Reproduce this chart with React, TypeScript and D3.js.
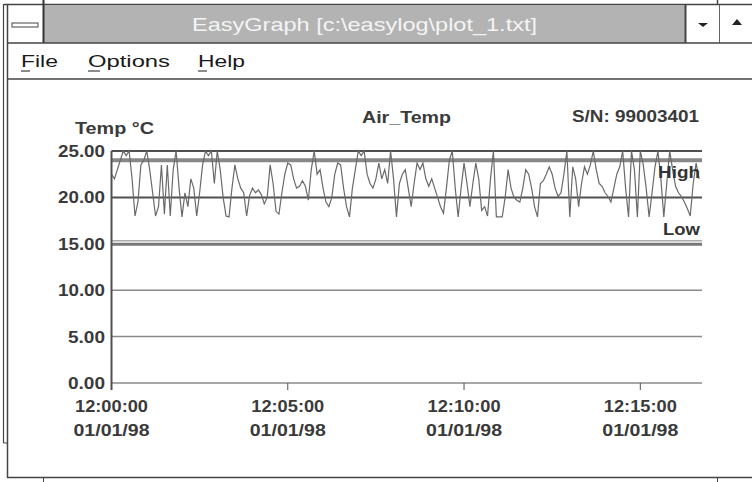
import React from "react";
import * as d3 from "d3";

// ---------- data ----------
const sampleStepSec = 5;
const airTemp: number[] = [
  22.5, 22.0, 23.0, 24.0, 25.0, 24.5, 25.0, 22.0, 18.0, 19.5,
  23.5, 24.0, 25.0, 23.0, 20.5, 18.0, 19.0, 23.5, 18.2, 23.5,
  18.0, 23.0, 25.0, 21.0, 17.9, 20.5, 19.0, 22.0, 21.0, 18.0,
  20.5, 23.5, 25.0, 24.5, 25.0, 21.5, 25.0, 23.0, 20.0, 18.0,
  17.9, 21.0, 23.5, 22.0, 21.0, 20.5, 18.0, 20.2, 21.0, 20.5,
  20.8, 20.3, 19.3, 20.0, 23.5, 21.5, 18.5, 18.2, 20.5, 22.5,
  23.7, 23.5, 22.0, 21.0, 21.2, 21.8, 21.2, 19.7, 23.0, 25.0,
  22.5, 23.0, 21.0, 19.5, 19.0, 20.0, 22.5, 23.7, 23.5, 21.0,
  19.0, 17.9, 21.0, 23.0, 25.0, 24.5, 25.0, 22.5, 21.5, 21.0,
  22.0, 23.7, 22.0, 23.0, 21.5, 25.0, 22.0, 17.9, 21.5, 22.5,
  23.0, 21.0, 19.0, 21.5, 23.7, 23.0, 23.7, 22.0, 21.2, 22.0,
  21.0, 20.0, 19.0, 18.3, 21.0, 24.0, 25.0, 21.0, 17.9, 21.0,
  23.7, 21.5, 19.0, 21.5, 23.7, 22.0, 18.6, 19.0, 18.0, 22.0,
  25.0, 17.9, 17.9, 17.9, 20.0, 23.0, 21.0, 20.0, 19.7, 19.5,
  21.0, 23.0, 22.5, 21.0, 19.0, 17.9, 21.5, 21.8, 22.5, 23.3,
  22.5, 21.0, 20.1, 20.5, 22.5, 25.0, 17.9, 23.3, 22.0, 19.0,
  21.5, 23.3, 22.5, 23.5, 25.0, 23.0, 21.5, 21.2, 20.5, 20.1,
  19.5, 21.0, 22.5, 23.3, 25.0, 21.0, 17.9, 25.0, 23.0, 17.9,
  25.0, 23.5, 21.0, 17.9, 20.5, 23.3, 25.0, 22.0, 17.9, 21.5,
  25.0, 23.0, 21.2, 20.5, 20.1, 19.5, 18.8, 18.0, 21.5, 23.7,
  22.0,
];
const yTicks = [0, 5, 10, 15, 20, 25];
const yTickLabels = ["0.00", "5.00", "10.00", "15.00", "20.00", "25.00"];
const xTickSeconds = [0, 300, 600, 900];
const xTickTimes = ["12:00:00", "12:05:00", "12:10:00", "12:15:00"];
const xTickDates = ["01/01/98", "01/01/98", "01/01/98", "01/01/98"];
const highLimit = 24;
const lowLimit = 15;
const windowTitle = "EasyGraph [c:\\easylog\\plot_1.txt]";
const menuItems = ["File", "Options", "Help"];
const chartTitle = "Air_Temp";
const serialText = "S/N: 99003401";
const yAxisTitle = "Temp °C";

// ---------- layout ----------
const W = 752;
const H = 482;
const plotL = 111.5;
const plotR = 702;
const plotT = 151;
const plotB = 383;

const FONT = "'Liberation Sans', Arial, sans-serif";
const TXT = "#3a3a3a";

const x = d3.scaleLinear().domain([0, 1005]).range([plotL, plotR]);
const y = d3.scaleLinear().domain([0, 25]).range([plotB, plotT]);

const line = d3
  .line<number>()
  .x((_, i) => x(i * sampleStepSec))
  .y((d) => y(d));

function numWidth(s: string) {
  let w = 0;
  for (const c of s) w += c === "." ? 7 : 10;
  return w;
}

export default function App() {
  const menuPos = [
    { x: 21, w: 37 },
    { x: 88, w: 82 },
    { x: 198, w: 47 },
  ];
  return (
    <svg
      width={W}
      height={H}
      style={{ position: "absolute", left: 0, top: 0, background: "#fff" }}
      fontFamily={FONT}
    >
      <rect x={0} y={0} width={W} height={H} fill="#fff" />
      {/* window frame */}
      <line x1={4} x2={W} y1={4.5} y2={4.5} stroke="#444" strokeWidth={1.5} />
      <line x1={3.5} x2={3.5} y1={4} y2={443} stroke="#444" strokeWidth={1.2} />
      <line x1={3.5} x2={7.5} y1={443} y2={443} stroke="#444" strokeWidth={1} />
      <line x1={7.5} x2={7.5} y1={4} y2={478} stroke="#444" strokeWidth={1.5} />
      <line x1={7} x2={W} y1={477.5} y2={477.5} stroke="#444" strokeWidth={1.5} />
      <line x1={43.5} x2={43.5} y1={478} y2={H} stroke="#444" strokeWidth={1} />
      <line x1={717.5} x2={717.5} y1={478} y2={H} stroke="#444" strokeWidth={1} />
      <line x1={717.5} x2={717.5} y1={0} y2={4} stroke="#444" strokeWidth={1.5} />

      {/* title bar */}
      <rect x={44} y={5} width={641} height={38} fill="#b3b3b3" />
      <line x1={43.5} x2={43.5} y1={0} y2={43} stroke="#333" strokeWidth={2} />
      <rect x={12} y={23} width={26} height={4} fill="#fff" stroke="#444" strokeWidth={1} />
      <line x1={685.5} x2={685.5} y1={5} y2={43} stroke="#444" strokeWidth={2} />
      <line x1={719.5} x2={719.5} y1={5} y2={43} stroke="#666" strokeWidth={1} />
      <path d="M698,23 L708,23 L703,27 Z" fill="#222" />
      <path d="M732,25 L742,25 L737,19 Z" fill="#222" />
      <line x1={7} x2={W} y1={43} y2={43} stroke="#444" strokeWidth={1.5} />
      <text
        x={192}
        y={31}
        fontSize={19}
        fill="#f4f4f4"
        textLength={345}
        lengthAdjust="spacingAndGlyphs"
      >
        {windowTitle}
      </text>

      {/* menu */}
      {menuItems.map((m, i) => (
        <g key={m}>
          <text
            x={menuPos[i].x}
            y={67}
            fontSize={17}
            fill="#1a1a1a"
            textLength={menuPos[i].w}
            lengthAdjust="spacingAndGlyphs"
          >
            {m}
          </text>
          <line
            x1={menuPos[i].x}
            x2={menuPos[i].x + (i === 1 ? 12 : 9)}
            y1={71}
            y2={71}
            stroke="#1a1a1a"
            strokeWidth={1}
          />
        </g>
      ))}
      <line x1={7} x2={W} y1={79} y2={79} stroke="#444" strokeWidth={1.5} />

      {/* chart titles */}
      <text x={75} y={134} fontSize={17} fontWeight="bold" fill={TXT} textLength={79} lengthAdjust="spacingAndGlyphs">
        {yAxisTitle}
      </text>
      <text x={362} y={123} fontSize={17} fontWeight="bold" fill={TXT} textLength={89} lengthAdjust="spacingAndGlyphs">
        {chartTitle}
      </text>
      <text x={572} y={122} fontSize={17} fontWeight="bold" fill={TXT} textLength={127} lengthAdjust="spacingAndGlyphs">
        {serialText}
      </text>

      {/* gridlines */}
      {yTicks.map((t) => (
        <line
          key={"g" + t}
          x1={plotL}
          x2={plotR}
          y1={y(t)}
          y2={y(t)}
          stroke={t >= 20 ? "#505050" : "#8a8a8a"}
          strokeWidth={t >= 20 ? 2 : 1.5}
        />
      ))}
      {/* low limit */}
      <line x1={plotL} x2={plotR} y1={y(lowLimit) - 3} y2={y(lowLimit) - 3} stroke="#aaa" strokeWidth={1.5} />
      <line x1={plotL} x2={plotR} y1={y(lowLimit) + 0.5} y2={y(lowLimit) + 0.5} stroke="#777" strokeWidth={3} />
      {/* high limit */}
      <line x1={plotL} x2={plotR} y1={y(highLimit)} y2={y(highLimit)} stroke="#888" strokeWidth={4} />

      {/* data */}
      <path d={line(airTemp) || ""} fill="none" stroke="#6a6a6a" strokeWidth={1.2} />

      {/* limit labels */}
      <text x={658} y={178} fontSize={17} fontWeight="bold" fill="#333" textLength={42} lengthAdjust="spacingAndGlyphs">
        High
      </text>
      <text x={663} y={235} fontSize={17} fontWeight="bold" fill="#333" textLength={37} lengthAdjust="spacingAndGlyphs">
        Low
      </text>

      {/* y axis */}
      <line x1={plotL} x2={plotL} y1={plotT} y2={390} stroke="#505050" strokeWidth={2} />
      {yTicks.map((t, i) => {
        const w = numWidth(yTickLabels[i]);
        return (
          <text
            key={"yl" + t}
            x={105 - w}
            y={y(t) + 6}
            fontSize={17}
            fontWeight="bold"
            fill={TXT}
            textLength={w}
            lengthAdjust="spacingAndGlyphs"
          >
            {yTickLabels[i]}
          </text>
        );
      })}

      {/* x axis */}
      {xTickSeconds.map((s, i) => (
        <g key={"xt" + s}>
          {i > 0 && (
            <line x1={x(s)} x2={x(s)} y1={plotB} y2={390} stroke="#505050" strokeWidth={1} />
          )}
          <text
            x={x(s) - 36.5}
            y={412}
            fontSize={17}
            fontWeight="bold"
            fill={TXT}
            textLength={73}
            lengthAdjust="spacingAndGlyphs"
          >
            {xTickTimes[i]}
          </text>
          <text
            x={x(s) - 38}
            y={436}
            fontSize={17}
            fontWeight="bold"
            fill={TXT}
            textLength={76}
            lengthAdjust="spacingAndGlyphs"
          >
            {xTickDates[i]}
          </text>
        </g>
      ))}
    </svg>
  );
}
